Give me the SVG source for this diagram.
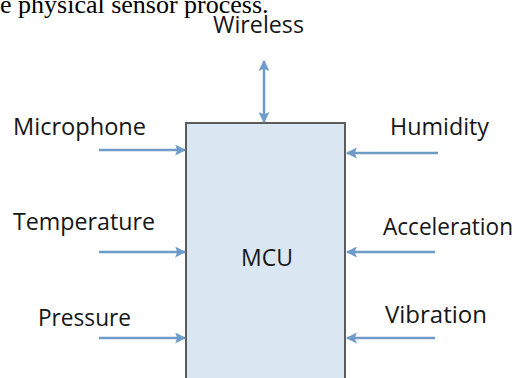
<svg xmlns="http://www.w3.org/2000/svg" width="526" height="378" viewBox="0 0 526 378">
<style>
.lbl{font-family:"Open Sans","DejaVu Sans",sans-serif;font-size:24px;fill:#161616}
.cap{font-family:"Liberation Serif","Times New Roman",serif;font-size:26px;fill:#000}
.arr{stroke:#6f9bc8;stroke-width:2.5;fill:none}
.box{fill:#dbe6f3;stroke:#5c5c5c;stroke-width:2}
</style>
<defs>
<marker id="ah" viewBox="0 0 10 10" refX="9" refY="5" markerWidth="11" markerHeight="11" markerUnits="userSpaceOnUse" orient="auto-start-reverse">
<path d="M0,0 L10,5 L0,10 L2,5 Z" fill="#6f9bc8"/>
</marker>
</defs>
<text class="cap" x="0" y="13">e physical sensor process.</text>
<g id="mcu">
<rect class="box" x="186" y="123" width="159" height="270"/>
<text class="lbl" x="241" y="266" textLength="52" lengthAdjust="spacingAndGlyphs">MCU</text>
</g>
<g id="wireless"><text class="lbl" x="213" y="33" textLength="91" lengthAdjust="spacingAndGlyphs">Wireless</text></g>
<g id="microphone"><text class="lbl" x="13" y="135" textLength="133" lengthAdjust="spacingAndGlyphs">Microphone</text></g>
<g id="temperature"><text class="lbl" x="13" y="230" textLength="142" lengthAdjust="spacingAndGlyphs">Temperature</text></g>
<g id="pressure"><text class="lbl" x="38" y="326" textLength="93" lengthAdjust="spacingAndGlyphs">Pressure</text></g>
<g id="humidity"><text class="lbl" x="390" y="135" textLength="99" lengthAdjust="spacingAndGlyphs">Humidity</text></g>
<g id="acceleration"><text class="lbl" x="383" y="235" textLength="130" lengthAdjust="spacingAndGlyphs">Acceleration</text></g>
<g id="vibration"><text class="lbl" x="385" y="323" textLength="102" lengthAdjust="spacingAndGlyphs">Vibration</text></g>
<g id="connectors">
<line class="arr" x1="264" y1="61" x2="264" y2="122" marker-start="url(#ah)" marker-end="url(#ah)"/>
<line class="arr" x1="99" y1="150" x2="185" y2="150" marker-end="url(#ah)"/>
<line class="arr" x1="99" y1="252" x2="185" y2="252" marker-end="url(#ah)"/>
<line class="arr" x1="99" y1="338" x2="185" y2="338" marker-end="url(#ah)"/>
<line class="arr" x1="438" y1="153" x2="347" y2="153" marker-end="url(#ah)"/>
<line class="arr" x1="435" y1="252" x2="347" y2="252" marker-end="url(#ah)"/>
<line class="arr" x1="435" y1="338" x2="347" y2="338" marker-end="url(#ah)"/>
</g>
</svg>
